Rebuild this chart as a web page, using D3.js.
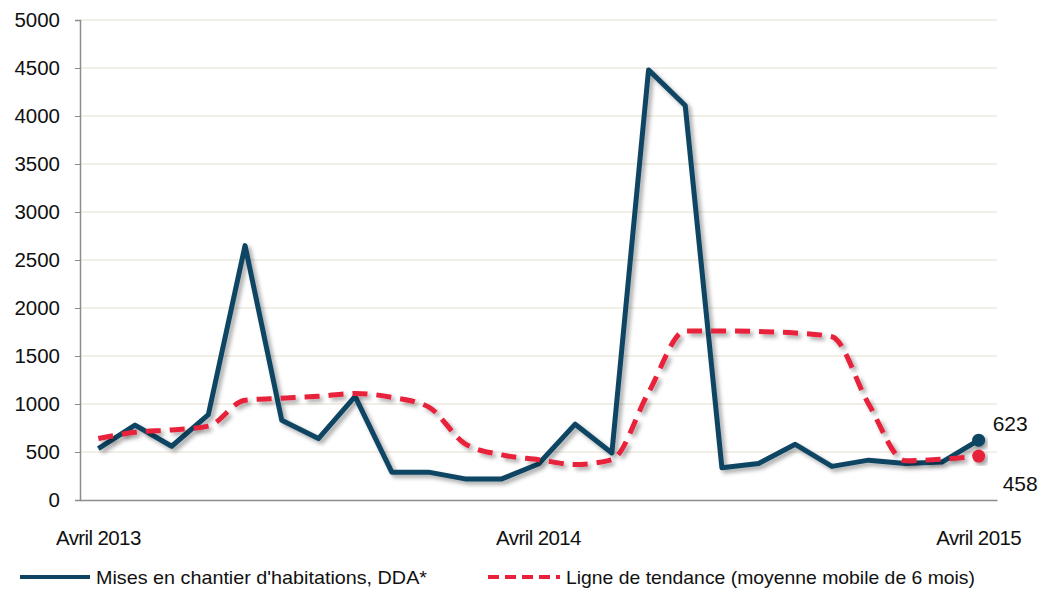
<!DOCTYPE html>
<html>
<head>
<meta charset="utf-8">
<script src="https://cdn.jsdelivr.net/npm/d3@7"></script>
<style>
  body { margin: 0; background: #fff; }
  svg { font-family: "Liberation Sans", Arial, sans-serif; }
</style>
</head>
<body>
<svg id="chart"></svg>
<script>
// monthly data, Avril 2013 -> Avril 2015
const months = d3.range(25);
const tickLabels = ["Avril 2013", "Avril 2014", "Avril 2015"];
const tickIndex = [0, 12, 24];
const mises = [535, 780, 560, 890, 2650, 830, 640, 1080, 290, 290, 220, 220, 375, 790, 490, 4480, 4110, 335, 380, 580, 350, 415, 380, 395, 623];
const tendance = [640, 705, 730, 770, 1040, 1060, 1080, 1110, 1070, 970, 585, 470, 420, 370, 420, 1120, 1760, 1760, 1755, 1740, 1700, 1000, 410, 425, 458];
const yTicks = d3.range(0, 5001, 500);

const width = 1048, height = 592;
const margin = { top: 20, right: 51, bottom: 92, left: 80 };

const svg = d3.select("#chart").attr("width", width).attr("height", height);

const defs = svg.append("defs");
const f = defs.append("filter").attr("id", "shadow")
  .attr("x", "-10%").attr("y", "-10%").attr("width", "130%").attr("height", "130%");
f.append("feDropShadow").attr("dx", 3).attr("dy", 3).attr("stdDeviation", 2)
  .attr("flood-color", "#000").attr("flood-opacity", 0.35);

const x = d3.scaleBand().domain(months).range([margin.left, width - margin.right]);
const y = d3.scaleLinear().domain([0, 5000]).range([height - margin.bottom, margin.top]);
const cx = i => x(i) + x.bandwidth() / 2;

// grid
svg.append("g").selectAll("line").data(yTicks.filter(d => d > 0)).enter().append("line")
  .attr("x1", margin.left).attr("x2", width - margin.right)
  .attr("y1", d => y(d)).attr("y2", d => y(d))
  .attr("stroke", "#EEEADF").attr("stroke-width", 1.5);

// y axis
const yAxis = svg.append("g").attr("transform", `translate(${margin.left},0)`)
  .call(d3.axisLeft(y).tickValues(yTicks).tickSize(5).tickPadding(15).tickFormat(d3.format("d")));
yAxis.select(".domain").attr("stroke", "#8c8c8c").attr("stroke-width", 1.5);
yAxis.selectAll(".tick line").attr("stroke", "#8c8c8c");
yAxis.selectAll("text").attr("font-size", 20.5).attr("fill", "#111").attr("font-family", "Liberation Sans, Arial, sans-serif");

// x axis
const xAxis = svg.append("g").attr("transform", `translate(0,${y(0)})`)
  .call(d3.axisBottom(x).tickValues([]).tickSize(0));
xAxis.select(".domain").attr("stroke", "#8c8c8c").attr("stroke-width", 1.5);
svg.append("g").selectAll("text").data(tickIndex).enter().append("text")
  .attr("x", d => cx(d)).attr("y", 545)
  .attr("text-anchor", "middle").attr("font-size", 20.5).attr("fill", "#111")
  .attr("letter-spacing", -0.6)
  .text((d, i) => tickLabels[i]);

// lines
const lineStraight = d3.line().x((d, i) => cx(i)).y(d => y(d));
const lineSmooth = d3.line().x((d, i) => cx(i)).y(d => y(d)).curve(d3.curveMonotoneX);

svg.append("path").datum(mises)
  .attr("d", lineStraight).attr("fill", "none")
  .attr("stroke", "#0D4463").attr("stroke-width", 5).attr("stroke-linejoin", "round")
  .attr("filter", "url(#shadow)");

svg.append("path").datum(tendance)
  .attr("d", lineSmooth).attr("fill", "none")
  .attr("stroke", "#E8203A").attr("stroke-width", 5).attr("stroke-dasharray", "15,9")
  .attr("filter", "url(#shadow)");

// end points
svg.append("circle").attr("cx", cx(24)).attr("cy", y(mises[24])).attr("r", 6.5)
  .attr("fill", "#0D4463").attr("filter", "url(#shadow)");
svg.append("circle").attr("cx", cx(24)).attr("cy", y(tendance[24])).attr("r", 6.5)
  .attr("fill", "#E8203A").attr("filter", "url(#shadow)");

svg.append("text").attr("x", cx(24) + 14).attr("y", y(mises[24]) - 9)
  .attr("font-size", 21).attr("fill", "#111").text(mises[24]);
svg.append("text").attr("x", cx(24) + 24).attr("y", y(tendance[24]) + 35)
  .attr("font-size", 21).attr("fill", "#111").text(tendance[24]);

// legend
const lg = svg.append("g");
lg.append("line").attr("x1", 20).attr("x2", 90).attr("y1", 577).attr("y2", 577)
  .attr("stroke", "#0D4463").attr("stroke-width", 4);
lg.append("text").attr("x", 96).attr("y", 584).attr("font-size", 19).attr("fill", "#111")
  .attr("textLength", 331).attr("lengthAdjust", "spacingAndGlyphs")
  .text("Mises en chantier d'habitations, DDA*");
lg.append("line").attr("x1", 488).attr("x2", 560).attr("y1", 577).attr("y2", 577)
  .attr("stroke", "#E8203A").attr("stroke-width", 4).attr("stroke-dasharray", "11,6");
lg.append("text").attr("x", 566).attr("y", 584).attr("font-size", 19).attr("fill", "#111")
  .attr("textLength", 409).attr("lengthAdjust", "spacingAndGlyphs")
  .text("Ligne de tendance (moyenne mobile de 6 mois)");
</script>
</body>
</html>
